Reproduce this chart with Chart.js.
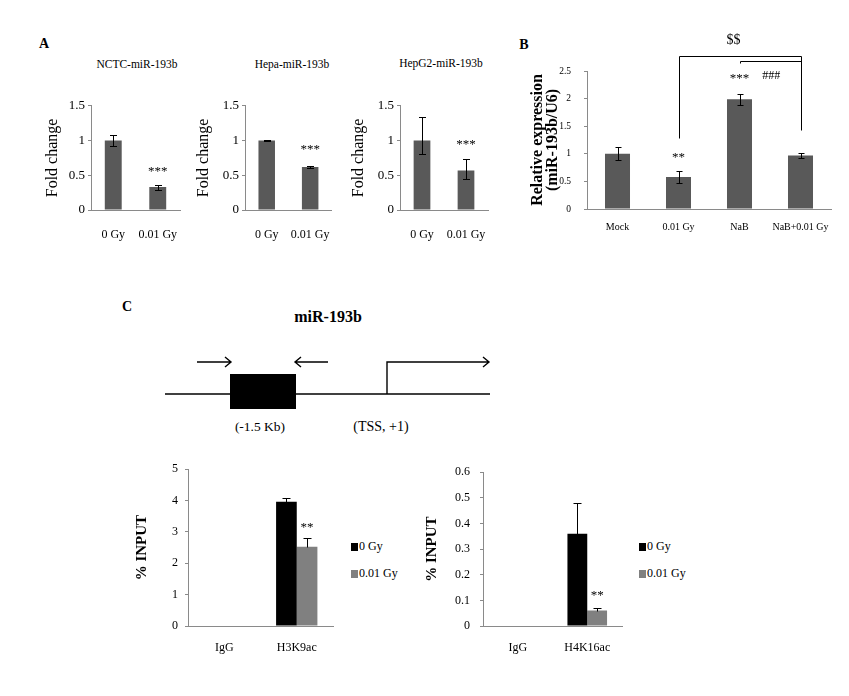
<!DOCTYPE html>
<html>
<head>
<meta charset="utf-8">
<script src="https://cdn.jsdelivr.net/npm/chart.js@4.4.0/dist/chart.umd.min.js"></script>
<style>
  body { margin: 0; background: #fff; width: 849px; height: 696px; overflow: hidden; position: relative;
         font-family: "Liberation Serif", "Times New Roman", serif; color: #000; }
  .box { position: absolute; }
  .t { position: absolute; white-space: nowrap; transform: translate(-50%, -50%); line-height: 1; }
  .b { font-weight: bold; }
  .lg { position: absolute; white-space: nowrap; font-size: 12px; line-height: 12px; }
  .sq { display: inline-block; width: 7px; height: 8px; margin-right: 1px; vertical-align: -1px; }
  svg { position: absolute; left: 0; top: 0; }
</style>
</head>
<body>

<!-- panel letters and titles -->
<div class="t b" style="left:44px;top:44px;font-size:14px">A</div>
<div class="t b" style="left:524px;top:45px;font-size:14px">B</div>
<div class="t b" style="left:127px;top:307px;font-size:14px">C</div>

<div class="t" style="left:137px;top:65px;font-size:11.5px">NCTC-miR-193b</div>
<div class="t" style="left:292px;top:65px;font-size:11.5px">Hepa-miR-193b</div>
<div class="t" style="left:441px;top:64px;font-size:11.5px">HepG2-miR-193b</div>

<!-- C: promoter diagram -->
<div class="t b" style="left:328px;top:317px;font-size:16px">miR-193b</div>
<svg width="849" height="696">
  <g stroke="#000" stroke-width="1.4" fill="none">
    <path d="M165 394 H490"/>
    <path d="M197 362 H231 M225 357 L231 362 L225 367"/>
    <path d="M328 362 H295 M301 357 L295 362 L301 367"/>
    <path d="M387 394 V362 H489 M483 357 L489 362 L483 367"/>
  </g>
  <rect x="230" y="374" width="66" height="35" fill="#000"/>
</svg>
<div class="t" style="left:260px;top:427px;font-size:13.5px">(-1.5 Kb)</div>
<div class="t" style="left:381px;top:427px;font-size:14px">(TSS, +1)</div>

<!-- charts -->
<div class="box" style="left:40px;top:95px"><canvas id="a1" width="150" height="155"></canvas></div>
<div class="box" style="left:194px;top:95px"><canvas id="a2" width="148" height="155"></canvas></div>
<div class="box" style="left:349px;top:95px"><canvas id="a3" width="149" height="155"></canvas></div>
<div class="box" style="left:520px;top:30px"><canvas id="b1" width="320" height="215"></canvas></div>
<div class="box" style="left:125px;top:455px"><canvas id="c1" width="215" height="210"></canvas></div>
<div class="box" style="left:420px;top:455px"><canvas id="c2" width="210" height="210"></canvas></div>

<!-- C legends -->
<div class="lg" style="left:351px;top:540px"><span class="sq" style="background:#000"></span>0 Gy</div>
<div class="lg" style="left:351px;top:567px"><span class="sq" style="background:#808080"></span>0.01 Gy</div>
<div class="lg" style="left:639px;top:540px"><span class="sq" style="background:#000"></span>0 Gy</div>
<div class="lg" style="left:639px;top:567px"><span class="sq" style="background:#808080"></span>0.01 Gy</div>

<script>
// ---- data ----
const doseLabels = ['0 Gy', '0.01 Gy'];

const nctcValues = [1.0, 0.33];
const nctcErr = [0.08, 0.035];

const hepaValues = [1.0, 0.62];
const hepaErr = [0.005, 0.012];

const hepg2Values = [1.0, 0.57];
const hepg2ErrUp = [0.34, 0.16];
const hepg2ErrDown = [0.2, 0.13];

const nabLabels = ['Mock', '0.01 Gy', 'NaB', 'NaB+0.01 Gy'];
const nabValues = [1.0, 0.58, 1.99, 0.97];
const nabErr = [0.12, 0.11, 0.1, 0.05];

const chipSeries = ['0 Gy', '0.01 Gy'];
const h3Labels = ['IgG', 'H3K9ac'];
const h3Control = [0, 3.96];
const h3Dose = [0, 2.53];
const h3ControlErr = [0, 0.12];
const h3DoseErr = [0, 0.29];

const h4Labels = ['IgG', 'H4K16ac'];
const h4Control = [0, 0.36];
const h4Dose = [0, 0.06];
const h4ControlErr = [0, 0.12];
const h4DoseErr = [0, 0.012];

// ---- look ----
Chart.defaults.font.family = '"Liberation Serif", "Times New Roman", serif';
Chart.defaults.color = '#000';
const axisColor = '#8a8a8a';
const barGray = '#595959';

// error bars drawn from errUp / errDown of each dataset
function errorBars(cap) {
  return {
    id: 'errorBars',
    afterDatasetsDraw(chart) {
      const ctx = chart.ctx;
      const y = chart.scales.y;
      chart.data.datasets.forEach((ds, i) => {
        if (!ds.errUp) return;
        chart.getDatasetMeta(i).data.forEach((bar, j) => {
          const v = ds.data[j];
          const up = ds.errUp[j] || 0;
          const down = ds.errDown ? ds.errDown[j] || 0 : 0;
          if (!up && !down) return;
          const top = Math.round(y.getPixelForValue(v + up)) + 0.5;
          const bot = Math.round(y.getPixelForValue(v - down)) + 0.5;
          const x = Math.round(bar.x) + 0.5;
          ctx.save();
          ctx.strokeStyle = '#000';
          ctx.lineWidth = 1;
          ctx.beginPath();
          ctx.moveTo(x, top); ctx.lineTo(x, bot);
          ctx.moveTo(x - cap, top); ctx.lineTo(x + cap, top);
          if (down) { ctx.moveTo(x - cap, bot); ctx.lineTo(x + cap, bot); }
          ctx.stroke();
          ctx.restore();
        });
      });
    }
  };
}

// significance marks and brackets
function marks(items, lines) {
  return {
    id: 'marks',
    afterDatasetsDraw(chart) {
      const ctx = chart.ctx;
      const xs = chart.scales.x, ys = chart.scales.y;
      ctx.save();
      ctx.strokeStyle = '#000';
      ctx.lineWidth = 1;
      (lines || []).forEach(pts => {
        ctx.beginPath();
        pts.forEach((p, k) => {
          const px = Math.round(xs.getPixelForValue(p[0])) + 0.5;
          const py = Math.round(ys.getPixelForValue(p[1])) + 0.5;
          if (k === 0) ctx.moveTo(px, py); else ctx.lineTo(px, py);
        });
        ctx.stroke();
      });
      ctx.fillStyle = '#000';
      ctx.textAlign = 'center';
      ctx.textBaseline = 'middle';
      (items || []).forEach(m => {
        const px = m.at !== undefined ? xs.getPixelForValue(m.at)
                                      : chart.getDatasetMeta(m.ds).data[m.i].x;
        ctx.font = (m.size || 13) + 'px "Liberation Serif", serif';
        ctx.fillText(m.text, px, ys.getPixelForValue(m.y));
      });
      ctx.restore();
    }
  };
}

function barChart(id, labels, datasets, o) {
  return new Chart(document.getElementById(id), {
    type: 'bar',
    data: { labels: labels, datasets: datasets },
    options: {
      responsive: false,
      animation: false,
      layout: { padding: { top: o.padTop, right: o.padRight, left: 0, bottom: 0 } },
      datasets: { bar: { categoryPercentage: o.catPct, barPercentage: 1 } },
      plugins: {
        legend: { display: false },
        tooltip: { enabled: false }
      },
      scales: {
        x: {
          grid: { display: false },
          border: { color: axisColor },
          ticks: { font: { size: o.xFont }, padding: o.xPad, maxRotation: 0, autoSkip: false },
          afterFit: s => { s.height = o.xHeight; }
        },
        y: {
          min: 0, max: o.max,
          ticks: { stepSize: o.step, font: { size: o.yFont }, padding: o.yPad,
                   callback: v => String(Number(v.toFixed(2))) },
          grid: { drawOnChartArea: false, tickLength: 3, color: axisColor },
          border: { color: axisColor },
          title: o.yTitle,
          afterFit: s => { s.width = o.yWidth; }
        }
      }
    },
    plugins: [errorBars(o.cap), marks(o.marks, o.lines)]
  });
}

// ---- A ----
const foldTitle = (pad) => ({ display: true, text: 'Fold change', font: { size: 16 }, padding: { top: pad, bottom: 0 } });
const aOpts = { padTop: 10, padRight: 10, catPct: 0.38, cap: 3.5, xFont: 12, xPad: 10, xHeight: 40,
                max: 1.5, step: 0.5, yFont: 13, yPad: 3, yWidth: 51 };

barChart('a1', doseLabels,
  [{ data: nctcValues, errUp: nctcErr, errDown: nctcErr, backgroundColor: barGray }],
  Object.assign({}, aOpts, { yTitle: foldTitle(3), marks: [{ ds: 0, i: 1, y: 0.55, text: '***' }] }));

barChart('a2', doseLabels,
  [{ data: hepaValues, errUp: hepaErr, errDown: hepaErr, backgroundColor: barGray }],
  Object.assign({}, aOpts, { yTitle: foldTitle(0), marks: [{ ds: 0, i: 1, y: 0.87, text: '***' }] }));

barChart('a3', doseLabels,
  [{ data: hepg2Values, errUp: hepg2ErrUp, errDown: hepg2ErrDown, backgroundColor: barGray }],
  Object.assign({}, aOpts, { yTitle: foldTitle(0), marks: [{ ds: 0, i: 1, y: 0.94, text: '***' }] }));

// ---- B ----
barChart('b1', nabLabels,
  [{ data: nabValues, errUp: nabErr, errDown: nabErr, backgroundColor: barGray }],
  { padTop: 41, padRight: 9, catPct: 0.41, cap: 3, xFont: 10, xPad: 4, xHeight: 36,
    max: 2.5, step: 0.5, yFont: 9.5, yPad: 13, yWidth: 67,
    yTitle: { display: true, text: ['Relative expression', '(miR-193b/U6)'],
              font: { size: 16, weight: 'bold', lineHeight: 0.9 }, padding: { top: 11, bottom: 0 } },
    marks: [
      { ds: 0, i: 1, y: 0.94, text: '**' },
      { ds: 0, i: 2, y: 2.37, text: '***' },
      { at: 2.52, y: 2.42, text: '###', size: 12 },
      { at: 1.9, y: 3.06, text: '$$', size: 14 }
    ],
    lines: [
      [[1, 1.28], [1, 2.77], [3, 2.77], [3, 1.43]],
      [[2, 2.65], [2, 2.69], [3, 2.69]]
    ] });

// ---- C ----
const inputTitle = (pad) => ({ display: true, text: '% INPUT', font: { size: 15, weight: 'bold' }, padding: { top: pad, bottom: 0 } });
const cOpts = { padTop: 13, padRight: 7, catPct: 0.57, cap: 4, xFont: 12, xPad: 7, xHeight: 39,
                yFont: 12, yWidth: 63 };

barChart('c1', h3Labels, [
    { label: chipSeries[0], data: h3Control, errUp: h3ControlErr, backgroundColor: '#000' },
    { label: chipSeries[1], data: h3Dose, errUp: h3DoseErr, backgroundColor: '#808080' }
  ],
  Object.assign({}, cOpts, { max: 5, step: 1, yPad: 7, yTitle: inputTitle(8),
    marks: [{ ds: 1, i: 1, y: 3.15, text: '**' }] }));

barChart('c2', h4Labels, [
    { label: chipSeries[0], data: h4Control, errUp: h4ControlErr, backgroundColor: '#000' },
    { label: chipSeries[1], data: h4Dose, errUp: h4DoseErr, backgroundColor: '#808080' }
  ],
  Object.assign({}, cOpts, { max: 0.6, step: 0.1, yPad: 10, padRight: 8, yTitle: inputTitle(3),
    marks: [{ ds: 1, i: 1, y: 0.12, text: '**' }] }));
</script>
</body>
</html>
